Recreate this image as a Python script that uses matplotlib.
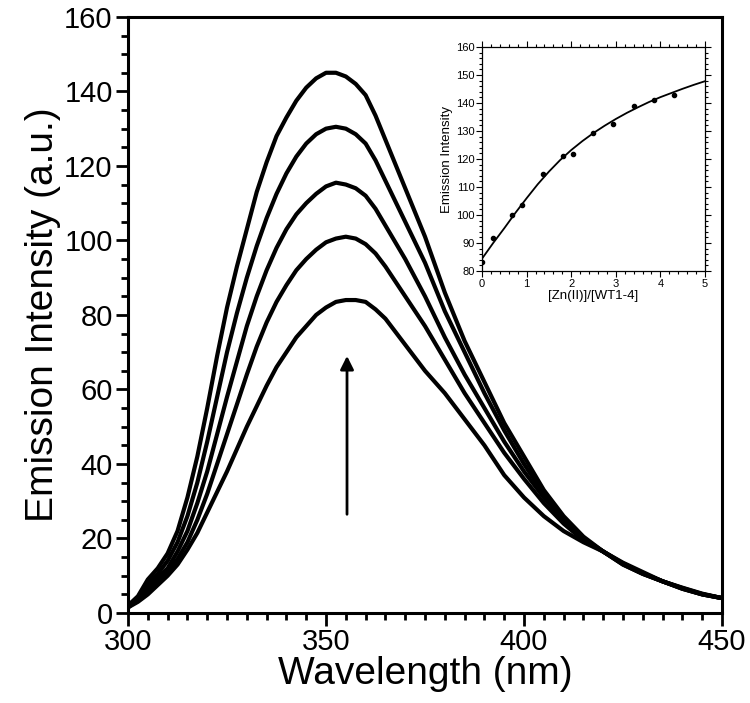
import numpy as np
import matplotlib.pyplot as plt
from matplotlib.ticker import MultipleLocator

plt.rcParams['font.family'] = ['Liberation Sans', 'DejaVu Sans']

# emission spectra (2.5 nm steps up to 400 nm, then 5 nm)
wavelength = [300, 302.5, 305, 307.5, 310, 312.5, 315, 317.5, 320, 322.5, 325, 327.5, 330,
              332.5, 335, 337.5, 340, 342.5, 345, 347.5, 350, 352.5, 355, 357.5, 360, 362.5,
              365, 367.5, 370, 372.5, 375, 377.5, 380, 382.5, 385, 387.5, 390, 392.5, 395,
              397.5, 400, 405, 410, 415, 420, 425, 430, 435, 440, 445, 450]
spec_1 = [1.5, 3, 5, 7.5, 10, 13, 17, 21.5, 27, 32.5, 38, 44, 50,
          55.5, 61, 66, 70, 74, 77, 80, 82, 83.5, 84, 84, 83.5, 81.5,
          79, 75.5, 72, 68.5, 65, 62, 59, 55.5, 52, 48.5, 45, 41, 37,
          34, 31, 26, 22, 19, 16.5, 13.5, 11, 8.5, 6.8, 5.2, 4]
spec_2 = [1.5, 3.5, 6, 8.5, 11, 14.5, 19, 25, 32, 40, 48, 56, 64,
          71.5, 78, 83.5, 88, 92, 95, 97.5, 99.5, 100.5, 101, 100.5, 99, 96.5,
          93, 89, 85, 81, 77, 72.5, 68, 63.5, 59, 55, 51, 47, 43,
          39.5, 36, 29.5, 24, 19.5, 16.5, 13.3, 10.7, 8.5, 6.7, 5.1, 4]
spec_3 = [1.5, 4, 7, 9.5, 12, 16.5, 22, 29.5, 38, 48, 58, 67.5, 77,
          85, 92, 98, 103, 107, 110, 112.5, 114.5, 115.5, 115, 114, 112, 108.5,
          104, 99.5, 95, 90, 85, 79.5, 74, 69, 64, 59.5, 55, 50.5, 46,
          42, 38, 31, 25, 20, 16.5, 13.2, 10.6, 8.5, 6.6, 5, 4]
spec_4 = [2, 4, 8, 10.5, 14, 19, 26, 35, 46, 58, 70, 80.5, 90,
          98.5, 106, 112.5, 118, 122.5, 126, 128.5, 130, 130.5, 130, 128.5, 126, 121.5,
          116, 110.5, 105, 99.5, 94, 87.5, 81, 75.5, 70, 64.5, 59, 54, 49,
          44.5, 40, 32, 25.5, 20, 16.5, 13, 10.5, 8.5, 6.5, 5, 4]
spec_5 = [2, 4.5, 9, 12, 16, 22, 31, 42, 55, 69, 82, 93, 103,
          113, 121, 128, 133, 137.5, 141, 143.5, 145, 145, 144, 142, 139, 133.5,
          127, 120.5, 114, 107.5, 101, 93.5, 86, 79.5, 73, 67.5, 62, 56.5, 51,
          46.5, 42, 33, 26, 20.5, 16.5, 13, 10.5, 8.5, 6.5, 5, 4]
spectra = [spec_1, spec_2, spec_3, spec_4, spec_5]

# titration (inset)
ratio_pts = [0, 0.24, 0.67, 0.9, 1.37, 1.82, 2.03, 2.49, 2.94, 3.4, 3.86, 4.3]
intensity_pts = [83.2, 91.8, 99.9, 103.7, 114.5, 121.2, 121.9, 129.3, 132.6, 138.8, 141, 143]
fit_x = [0, 0.25, 0.5, 0.75, 1, 1.25, 1.5, 1.75, 2, 2.25, 2.5, 2.75, 3, 3.25, 3.5,
         3.75, 4, 4.25, 4.5, 4.75, 5]
fit_y = [84.4, 90, 95.3, 100.8, 106, 111, 115.5, 119.6, 123.2, 126.4, 129.3, 131.9, 134.3,
         136.5, 138.5, 140.4, 142.1, 143.6, 145.1, 146.5, 147.8]

fig = plt.figure(figsize=(7.5, 7.03), dpi=100)
ax = fig.add_axes([0.1707, 0.128, 0.792, 0.848])

for s in spectra:
    ax.plot(wavelength, s, color='black', lw=3, solid_joinstyle='round')

ax.annotate('', xy=(355.3, 69), xytext=(355.3, 26.5),
            arrowprops=dict(arrowstyle='-|>,head_length=0.8,head_width=0.4',
                            lw=2, color='black', shrinkA=0, shrinkB=0))

ax.set_xlim(300, 450)
ax.set_ylim(0, 160)
ax.xaxis.set_major_locator(MultipleLocator(50))
ax.xaxis.set_minor_locator(MultipleLocator(5))
ax.yaxis.set_major_locator(MultipleLocator(20))
ax.yaxis.set_minor_locator(MultipleLocator(5))
ax.tick_params(which='both', direction='out', width=2, top=False, right=False)
ax.tick_params(which='major', length=9, labelsize=21, pad=2)
ax.tick_params(which='minor', length=5)
for sp in ax.spines.values():
    sp.set_linewidth(2.2)
ax.set_xlabel('Wavelength (nm)', fontsize=28, labelpad=0)
ax.set_ylabel('Emission Intensity (a.u.)', fontsize=28, labelpad=2)

# inset
ins = fig.add_axes([0.6427, 0.6145, 0.2973, 0.3186])
ins.plot(fit_x, fit_y, color='black', lw=1.3)
ins.plot(ratio_pts, intensity_pts, 'o', color='black', ms=3)
ins.set_xlim(0, 5)
ins.set_ylim(80, 160)
ins.xaxis.set_major_locator(MultipleLocator(1))
ins.xaxis.set_minor_locator(MultipleLocator(0.2))
ins.yaxis.set_major_locator(MultipleLocator(10))
ins.yaxis.set_minor_locator(MultipleLocator(2))
ins.tick_params(which='both', direction='out', top=True, right=True, width=0.8)
ins.tick_params(which='major', length=4, labelsize=8, pad=1.5)
ins.tick_params(which='minor', length=2)
for sp in ins.spines.values():
    sp.set_linewidth(0.9)
ins.set_xlabel('[Zn(II)]/[WT1-4]', fontsize=9.5, labelpad=1)
ins.set_ylabel('Emission Intensity', fontsize=9.5, labelpad=2)

fig.savefig('out.png', dpi=100)
